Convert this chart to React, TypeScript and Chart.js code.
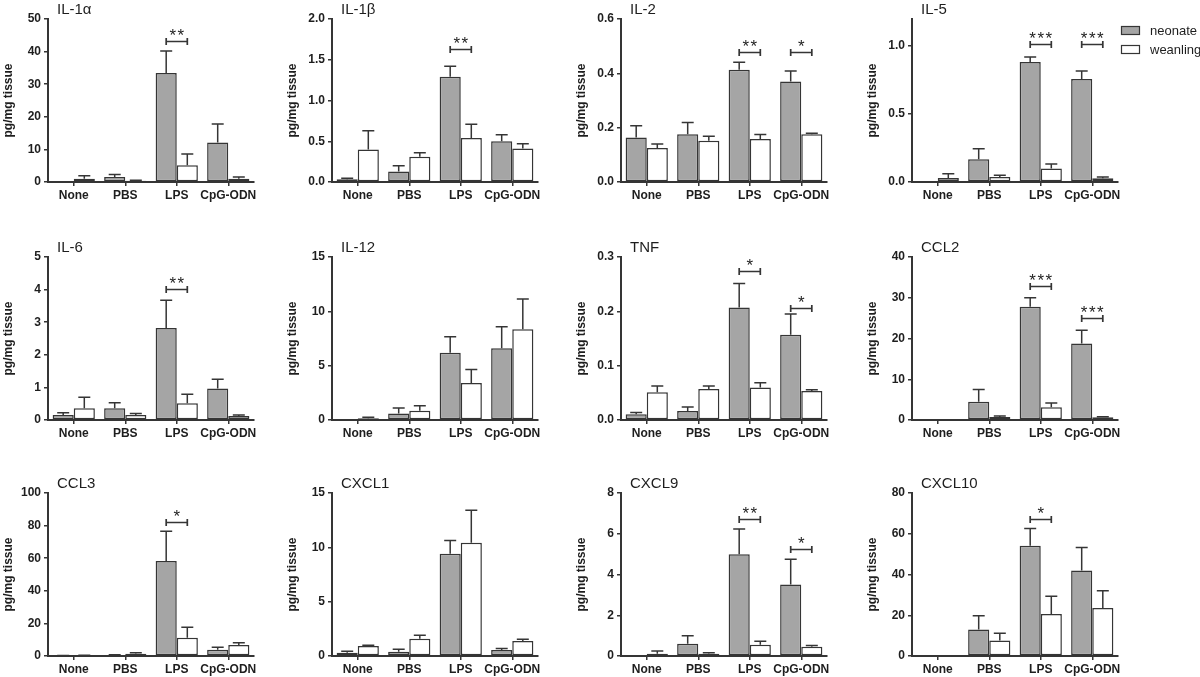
import React, { useEffect, useRef } from 'react';
import { Chart, registerables } from 'chart.js';

Chart.register(...registerables);

// ---------------- data ----------------
const categories = ['None', 'PBS', 'LPS', 'CpG-ODN'];
const seriesLabels = ['neonate', 'weanling'];
const panelTitles = ['IL-1α', 'IL-1β', 'IL-2', 'IL-5', 'IL-6', 'IL-12', 'TNF', 'CCL2', 'CCL3', 'CXCL1', 'CXCL9', 'CXCL10'];
const yAxisTitle = 'pg/mg tissue';

const neonateMean = [
  [0, 1.5, 33.4, 12.1],
  [0.035, 0.13, 1.29, 0.5],
  [0.164, 0.176, 0.413, 0.37],
  [0, 0.168, 0.883, 0.759],
  [0.15, 0.36, 2.82, 0.97],
  [0, 0.6, 6.2, 6.6],
  [0.0104, 0.0165, 0.207, 0.157],
  [0, 4.5, 27.8, 18.8],
  [0.2, 0.6, 58.3, 3.9],
  [0.3, 0.4, 9.41, 0.55],
  [0, 0.6, 5.0, 3.51],
  [0, 13.0, 54.1, 42.0],
];
const neonateSem = [
  [0, 0.8, 6.8, 5.7],
  [0.01, 0.07, 0.13, 0.08],
  [0.043, 0.043, 0.028, 0.039],
  [0, 0.076, 0.037, 0.058],
  [0.07, 0.17, 0.85, 0.28],
  [0, 0.5, 1.45, 1.97],
  [0.0036, 0.0075, 0.044, 0.038],
  [0, 3.0, 2.2, 3.2],
  [0.1, 0.2, 18.3, 1.4],
  [0.13, 0.21, 1.22, 0.15],
  [0, 0.39, 1.23, 1.24],
  [0, 6.8, 8.5, 11.2],
];
const weanlingMean = [
  [1.0, 0.4, 5.1, 1.0],
  [0.4, 0.31, 0.54, 0.41],
  [0.125, 0.152, 0.158, 0.176],
  [0.03, 0.037, 0.1, 0.027],
  [0.36, 0.15, 0.51, 0.12],
  [0.15, 0.86, 3.4, 8.36],
  [0.051, 0.057, 0.06, 0.0533],
  [0, 0.73, 3.1, 0.65],
  [0.3, 1.4, 11.2, 6.7],
  [0.92, 1.59, 10.42, 1.37],
  [0.11, 0.11, 0.55, 0.45],
  [0, 7.6, 20.6, 23.6],
];
const weanlingSem = [
  [0.9, 0.1, 3.5, 0.5],
  [0.23, 0.05, 0.17, 0.06],
  [0.015, 0.016, 0.017, 0.003],
  [0.03, 0.013, 0.032, 0.01],
  [0.34, 0.05, 0.28, 0.03],
  [0.1, 0.44, 1.25, 2.78],
  [0.0115, 0.0055, 0.0086, 0.0024],
  [0, 0.27, 1.1, 0.15],
  [0.1, 0.6, 6.5, 1.4],
  [0.08, 0.31, 2.99, 0.16],
  [0.13, 0.05, 0.17, 0.07],
  [0, 3.6, 8.7, 8.4],
];
const yMax = [50, 2, 0.6, 1.2, 5, 15, 0.3, 40, 100, 15, 8, 80];
const yStep = [10, 0.5, 0.2, 0.5, 1, 5, 0.1, 10, 20, 5, 2, 20];
const yDecimals = [0, 1, 1, 1, 0, 0, 1, 0, 0, 0, 0, 0];
// [category index, stars, bracket level in data units]
const significance: [number, string, number][][] = [
  [[2, '**', 43.4]],
  [[2, '**', 1.63]],
  [[2, '**', 0.48], [3, '*', 0.48]],
  [[2, '***', 1.017], [3, '***', 1.017]],
  [[2, '**', 4.02]],
  [],
  [[2, '*', 0.274], [3, '*', 0.207]],
  [[2, '***', 32.8], [3, '***', 25.1]],
  [[2, '*', 82.3]],
  [],
  [[2, '**', 6.7], [3, '*', 5.24]],
  [[2, '*', 67]],
];
const legendPanel = 3;

// ---------------- style / layout ----------------
const FONT = "'Liberation Sans', Arial, Helvetica, sans-serif";
const GRAY = '#a5a5a5';
const DARK = '#353535';
const TEXT = '#1e1e1e';
const colX = [48, 332, 621, 912];
const rowTop = [19, 257, 493];
const PLOT_W = 206;
const PLOT_H = 163;
const Y_W = 46;
const X_H = 30;
const PAD_TOP = 24;

const extrasPlugin = {
  id: 'panelExtras',
  afterDatasetsDraw(chart: any, _args: any, opts: any) {
    const ctx = chart.ctx as CanvasRenderingContext2D;
    const ys = chart.scales.y;
    ctx.save();
    ctx.strokeStyle = DARK;
    ctx.lineWidth = 1.5;
    chart.data.datasets.forEach((ds: any, di: number) => {
      const meta = chart.getDatasetMeta(di);
      meta.data.forEach((el: any, j: number) => {
        const sem = ds.sem[j];
        if (!sem) return;
        const top = ys.getPixelForValue(ds.data[j] + sem);
        ctx.beginPath();
        ctx.moveTo(el.x, el.y);
        ctx.lineTo(el.x, top);
        ctx.moveTo(el.x - 6, top);
        ctx.lineTo(el.x + 6, top);
        ctx.stroke();
      });
    });
    // significance brackets
    (opts.sig || []).forEach(([cat, label, level]: [number, string, number]) => {
      const a = chart.getDatasetMeta(0).data[cat].x;
      const b = chart.getDatasetMeta(1).data[cat].x;
      const py = Math.round(ys.getPixelForValue(level)) + 0.5;
      ctx.strokeStyle = DARK;
      ctx.lineWidth = 1.7;
      ctx.beginPath();
      ctx.moveTo(a, py);
      ctx.lineTo(b, py);
      ctx.moveTo(a, py - 3.5);
      ctx.lineTo(a, py + 3.5);
      ctx.moveTo(b, py - 3.5);
      ctx.lineTo(b, py + 3.5);
      ctx.stroke();
      ctx.fillStyle = TEXT;
      ctx.font = `17px ${FONT}`;
      (ctx as any).letterSpacing = '1.5px';
      ctx.textAlign = 'center';
      ctx.textBaseline = 'alphabetic';
      ctx.fillText(label, (a + b) / 2 + 0.75, py - 1);
      (ctx as any).letterSpacing = '0px';
    });
    ctx.restore();
  },
  afterDraw(chart: any, _args: any, opts: any) {
    const ctx = chart.ctx as CanvasRenderingContext2D;
    const area = chart.chartArea;
    ctx.save();
    ctx.fillStyle = TEXT;
    ctx.font = `15px ${FONT}`;
    ctx.textAlign = 'left';
    ctx.textBaseline = 'alphabetic';
    ctx.fillText(opts.title, area.left + 9, area.top - 5);
    if (opts.legend) {
      chart.data.datasets.forEach((ds: any, di: number) => {
        const bx = area.right + 3.5;
        const by = area.top + 7.5 + di * 19;
        ctx.fillStyle = ds.backgroundColor;
        ctx.fillRect(bx, by, 18, 8);
        ctx.strokeStyle = DARK;
        ctx.lineWidth = 1.2;
        ctx.strokeRect(bx, by, 18, 8);
        ctx.fillStyle = TEXT;
        ctx.font = `13px ${FONT}`;
        ctx.textBaseline = 'middle';
        ctx.fillText(ds.label, area.right + 32, by + 4.5);
      });
    }
    ctx.restore();
  },
};

function Panel({ i }: { i: number }) {
  const ref = useRef<HTMLCanvasElement>(null);
  const col = i % 4;
  const row = Math.floor(i / 4);
  const padRight = i === legendPanel ? 82 : 10;
  const w = Y_W + PLOT_W + padRight;
  const h = PAD_TOP + PLOT_H + X_H;

  useEffect(() => {
    if (!ref.current) return;
    const step = yStep[i];
    const dec = yDecimals[i];
    const barCommon = {
      borderColor: DARK,
      borderWidth: 1.5,
      borderSkipped: false,
      categoryPercentage: 0.82,
      barPercentage: 1,
    };
    const chart = new Chart(ref.current, {
      type: 'bar',
      data: {
        labels: categories,
        datasets: [
          { label: seriesLabels[0], data: neonateMean[i], sem: neonateSem[i], backgroundColor: GRAY, ...barCommon } as any,
          { label: seriesLabels[1], data: weanlingMean[i], sem: weanlingSem[i], backgroundColor: '#ffffff', ...barCommon } as any,
        ],
      },
      options: {
        animation: false,
        responsive: false,
        devicePixelRatio: 1,
        layout: { padding: { top: PAD_TOP, left: 0, right: padRight, bottom: 0 } },
        plugins: {
          legend: { display: false },
          tooltip: { enabled: false },
          panelExtras: { title: panelTitles[i], sig: significance[i], legend: i === legendPanel },
        } as any,
        scales: {
          x: {
            offset: true,
            ticks: { font: { family: FONT, size: 12, weight: 'bold' }, color: TEXT, padding: 2, maxRotation: 0, autoSkip: false },
            grid: { drawOnChartArea: false, offset: false, tickLength: 4, color: DARK, lineWidth: 1.5 },
            border: { display: true, color: DARK, width: 2 },
            afterFit: (s: any) => { s.height = X_H; },
          },
          y: {
            min: 0,
            max: yMax[i],
            ticks: {
              stepSize: step,
              font: { family: FONT, size: 12, weight: 'bold' },
              color: TEXT,
              padding: 3,
              callback: (v: any) => Number(v).toFixed(dec),
            },
            afterBuildTicks: (s: any) => {
              s.ticks = s.ticks.filter((t: any) => Math.abs(t.value / step - Math.round(t.value / step)) < 1e-6);
            },
            grid: { drawOnChartArea: false, tickLength: 4, color: DARK, lineWidth: 1.5 },
            border: { display: true, color: DARK, width: 2 },
            title: {
              display: true,
              text: yAxisTitle,
              color: TEXT,
              font: { family: FONT, size: 12, weight: 'bold', lineHeight: 1 },
              padding: { top: 1, bottom: 0 },
            },
            afterFit: (s: any) => { s.width = Y_W; },
          },
        },
      } as any,
      plugins: [extrasPlugin as any],
    });
    return () => chart.destroy();
  }, [i]);

  return (
    <div style={{ position: 'absolute', left: colX[col] - Y_W, top: rowTop[row] - PAD_TOP, width: w, height: h }}>
      <canvas ref={ref} width={w} height={h} style={{ width: w, height: h, display: 'block' }} />
    </div>
  );
}

export default function App() {
  return (
    <div style={{ position: 'absolute', left: 0, top: 0, width: 1200, height: 677, background: '#ffffff', overflow: 'hidden' }}>
      {panelTitles.map((_, i) => (
        <Panel key={i} i={i} />
      ))}
    </div>
  );
}
